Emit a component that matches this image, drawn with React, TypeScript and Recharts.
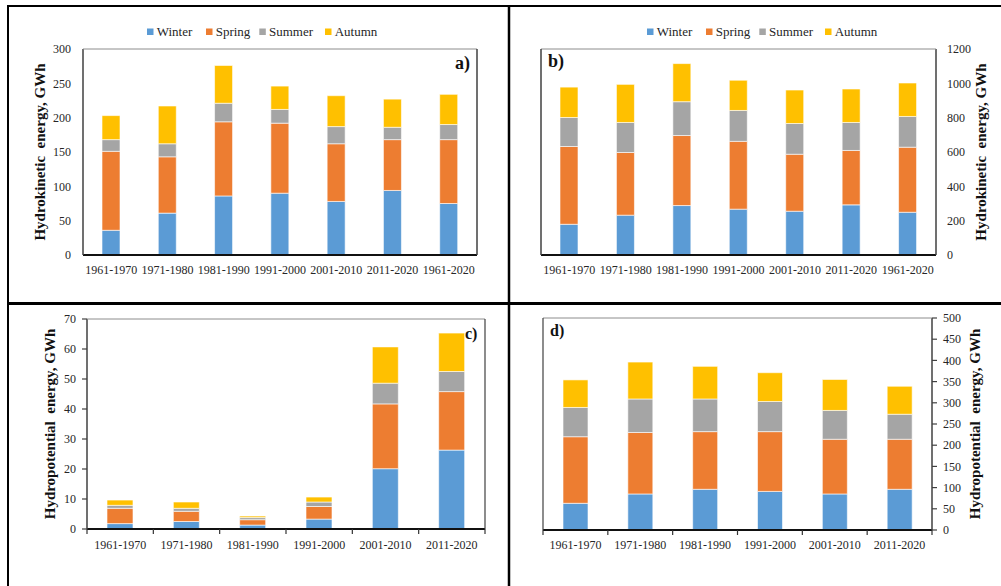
import { BarChart, Bar, XAxis, YAxis } from 'recharts';

const seasons = ['Winter', 'Spring', 'Summer', 'Autumn'];
const seasonColors = ['#5B9BD5', '#ED7D31', '#A5A5A5', '#FFC000'];

const periodsKinetic = ['1961-1970', '1971-1980', '1981-1990', '1991-2000', '2001-2010', '2011-2020', '1961-2020'];
const periodsPotential = ['1961-1970', '1971-1980', '1981-1990', '1991-2000', '2001-2010', '2011-2020'];

// a) hydrokinetic, left panel
const winterA = [36, 61, 86, 90, 78, 94, 75];
const springA = [115, 82, 108, 102, 84, 74, 93];
const summerA = [17, 19, 27, 20, 25, 18, 22];
const autumnA = [35, 55, 55, 34, 45, 41, 44];

// b) hydrokinetic, right panel
const winterB = [179, 232, 288, 267, 255, 292, 249];
const springB = [453, 365, 408, 395, 332, 317, 379];
const summerB = [169, 175, 197, 180, 179, 163, 179];
const autumnB = [177, 222, 222, 176, 195, 195, 195];

// c) hydropotential, left panel
const winterC = [1.8, 2.5, 1.3, 3.3, 20.1, 26.3];
const springC = [5.1, 3.4, 1.8, 4.2, 21.6, 19.5];
const summerC = [1.0, 1.0, 0.7, 1.5, 6.9, 6.7];
const autumnC = [1.75, 2.1, 0.5, 1.65, 12.1, 12.8];

// d) hydropotential, right panel
const winterD = [63, 85, 96, 91, 85, 96];
const springD = [157, 145, 136, 141, 129, 118];
const summerD = [69, 79, 77, 71, 68, 59];
const autumnD = [65, 87, 77, 68, 73, 66];

const ticksA = [0, 50, 100, 150, 200, 250, 300];
const ticksB = [0, 200, 400, 600, 800, 1000, 1200];
const ticksC = [0, 10, 20, 30, 40, 50, 60, 70];
const ticksD = [0, 50, 100, 150, 200, 250, 300, 350, 400, 450, 500];

const FONT = '"Liberation Serif", "Times New Roman", serif';
const TEXT = '#262626';

const makeXTick = (count: number, marked: boolean, gap: number) => (props: any) => {
  const { x, y, payload, index } = props;
  const half = payload?.offset ?? 0;
  const axisY = y - gap;
  return (
    <g>
      {marked && <line x1={x - half} x2={x - half} y1={axisY} y2={axisY + 5} stroke="#333" strokeWidth={1.2} />}
      {marked && index === count - 1 && (
        <line x1={x + half} x2={x + half} y1={axisY} y2={axisY + 5} stroke="#333" strokeWidth={1.2} />
      )}
      <text x={x} y={y} dy="0.71em" textAnchor="middle" fill={TEXT} fontSize={12} fontFamily={FONT}>
        {payload.value}
      </text>
    </g>
  );
};

type PanelProps = {
  pos: number[];
  margin: { top: number; right: number; bottom: number; left: number };
  categories: string[];
  series: number[][];
  ticks: number[];
  side: 'left' | 'right';
  barSize: number;
  marked: boolean;
  xGap: number;
  yMargin: number;
};

function Panel({ pos, margin, categories, series, ticks, side, barSize, marked, xGap, yMargin }: PanelProps) {
  const data = categories.map((period, i) => {
    const row: any = { period };
    seasons.forEach((s, k) => (row[s] = series[k][i]));
    return row;
  });
  const tickSize = marked ? 5 : 6;
  return (
    <div style={{ position: 'absolute', left: pos[0], top: pos[1] }}>
      <BarChart width={pos[2]} height={pos[3]} data={data} margin={margin}>
        <XAxis
          dataKey="period"
          interval={0}
          height={30}
          axisLine={{ stroke: '#111', strokeWidth: 2 }}
          tickLine={false}
          tickSize={tickSize}
          tickMargin={xGap - tickSize}
          tick={makeXTick(categories.length, marked, xGap)}
        />
        <YAxis
          orientation={side}
          width={40}
          domain={[0, ticks[ticks.length - 1]]}
          ticks={ticks}
          interval={0}
          axisLine={{ stroke: '#404040', strokeWidth: 1.5 }}
          tickLine={marked ? { stroke: '#404040', strokeWidth: 1.2 } : false}
          tickSize={tickSize}
          tickMargin={yMargin}
          tick={{ fill: TEXT, fontSize: 12, fontFamily: FONT }}
        />
        {seasons.map((s, k) => (
          <Bar
            key={s}
            dataKey={s}
            stackId="s"
            fill={seasonColors[k]}
            stroke="#ffffff"
            strokeWidth={0.6}
            barSize={barSize}
            isAnimationActive={false}
          />
        ))}
      </BarChart>
    </div>
  );
}

const legendOffsets = [0, 59, 112.3, 178];

function Legend({ x }: { x: number }) {
  return (
    <g>
      {seasons.map((s, k) => (
        <g key={s}>
          <rect x={x + legendOffsets[k]} y={28.5} width={6.5} height={6.5} fill={seasonColors[k]} />
          <text x={x + legendOffsets[k] + 9.7} y={36} fontSize={13} fill={TEXT} fontFamily={FONT}>
            {s}
          </text>
        </g>
      ))}
    </g>
  );
}

function AxisTitle({ x, y, text }: { x: number; y: number; text: string }) {
  return (
    <text
      x={x}
      y={y}
      transform={`rotate(-90 ${x} ${y})`}
      textAnchor="middle"
      fontSize={15}
      fontWeight="bold"
      fill="#111"
      fontFamily={FONT}
      style={{ whiteSpace: 'pre' }}
    >
      {text}
    </text>
  );
}

export default function App() {
  return (
    <div style={{ position: 'absolute', left: 0, top: 0, width: 1001, height: 586, background: '#fff', fontFamily: FONT }}>
      <Panel
        pos={[0, 0, 509, 300]}
        margin={{ top: 49, right: 32, bottom: 15, left: 43 }}
        categories={periodsKinetic}
        series={[winterA, springA, summerA, autumnA]}
        ticks={ticksA}
        side="left"
        barSize={18}
        marked={false}
        xGap={10}
        yMargin={6}
      />
      <Panel
        pos={[509, 0, 492, 300]}
        margin={{ top: 49, right: 25, bottom: 15, left: 32 }}
        categories={periodsKinetic}
        series={[winterB, springB, summerB, autumnB]}
        ticks={ticksB}
        side="right"
        barSize={18}
        marked={false}
        xGap={10}
        yMargin={5}
      />
      <Panel
        pos={[0, 303, 509, 283]}
        margin={{ top: 16, right: 24, bottom: 27, left: 47 }}
        categories={periodsPotential}
        series={[winterC, springC, summerC, autumnC]}
        ticks={ticksC}
        side="left"
        barSize={26}
        marked={true}
        xGap={11.5}
        yMargin={6}
      />
      <Panel
        pos={[509, 303, 492, 283]}
        margin={{ top: 15, right: 29, bottom: 26, left: 34 }}
        categories={periodsPotential}
        series={[winterD, springD, summerD, autumnD]}
        ticks={ticksD}
        side="right"
        barSize={25}
        marked={true}
        xGap={10.5}
        yMargin={6}
      />
      <svg width={1001} height={586} style={{ position: 'absolute', left: 0, top: 0, pointerEvents: 'none' }}>
        {/* figure frame */}
        <line x1={7} x2={1001} y1={6} y2={6} stroke="#000" strokeWidth={2} />
        <line x1={8} x2={8} y1={5} y2={586} stroke="#000" strokeWidth={2} />
        <line x1={509} x2={509} y1={5} y2={586} stroke="#000" strokeWidth={2.5} />
        <line x1={7} x2={1001} y1={303.5} y2={303.5} stroke="#000" strokeWidth={3} />

        {/* plot boxes: top edge and the side without an axis */}
        <line x1={83} x2={477} y1={49} y2={49} stroke="#8c8c8c" strokeWidth={1} />
        <line x1={477} x2={477} y1={49} y2={255} stroke="#404040" strokeWidth={1.5} />
        <line x1={541} x2={936} y1={49} y2={49} stroke="#8c8c8c" strokeWidth={1} />
        <line x1={541} x2={541} y1={49} y2={255} stroke="#404040" strokeWidth={1.5} />
        <line x1={87} x2={485} y1={319} y2={319} stroke="#8c8c8c" strokeWidth={1} />
        <line x1={485} x2={485} y1={319} y2={529} stroke="#404040" strokeWidth={1.2} />
        <line x1={543} x2={932} y1={318} y2={318} stroke="#8c8c8c" strokeWidth={1} />
        <line x1={543} x2={543} y1={318} y2={530} stroke="#404040" strokeWidth={1.2} />

        <Legend x={147} />
        <Legend x={647} />

        <text x={455} y={68.5} fontSize={18} fontWeight="bold" fill="#111" fontFamily={FONT}>a)</text>
        <text x={548} y={66.5} fontSize={18} fontWeight="bold" fill="#111" fontFamily={FONT}>b)</text>
        <text x={465} y={339} fontSize={16} fontWeight="bold" fill="#111" fontFamily={FONT}>c)</text>
        <text x={550} y={336} fontSize={16} fontWeight="bold" fill="#111" fontFamily={FONT}>d)</text>

        <AxisTitle x={45} y={152} text="Hydrokinetic  energy, GWh" />
        <AxisTitle x={986} y={152} text="Hydrokinetic  energy, GWh" />
        <AxisTitle x={55} y={424} text="Hydropotential  energy, GWh" />
        <AxisTitle x={980} y={424} text="Hydropotential  energy, GWh" />
      </svg>
    </div>
  );
}
